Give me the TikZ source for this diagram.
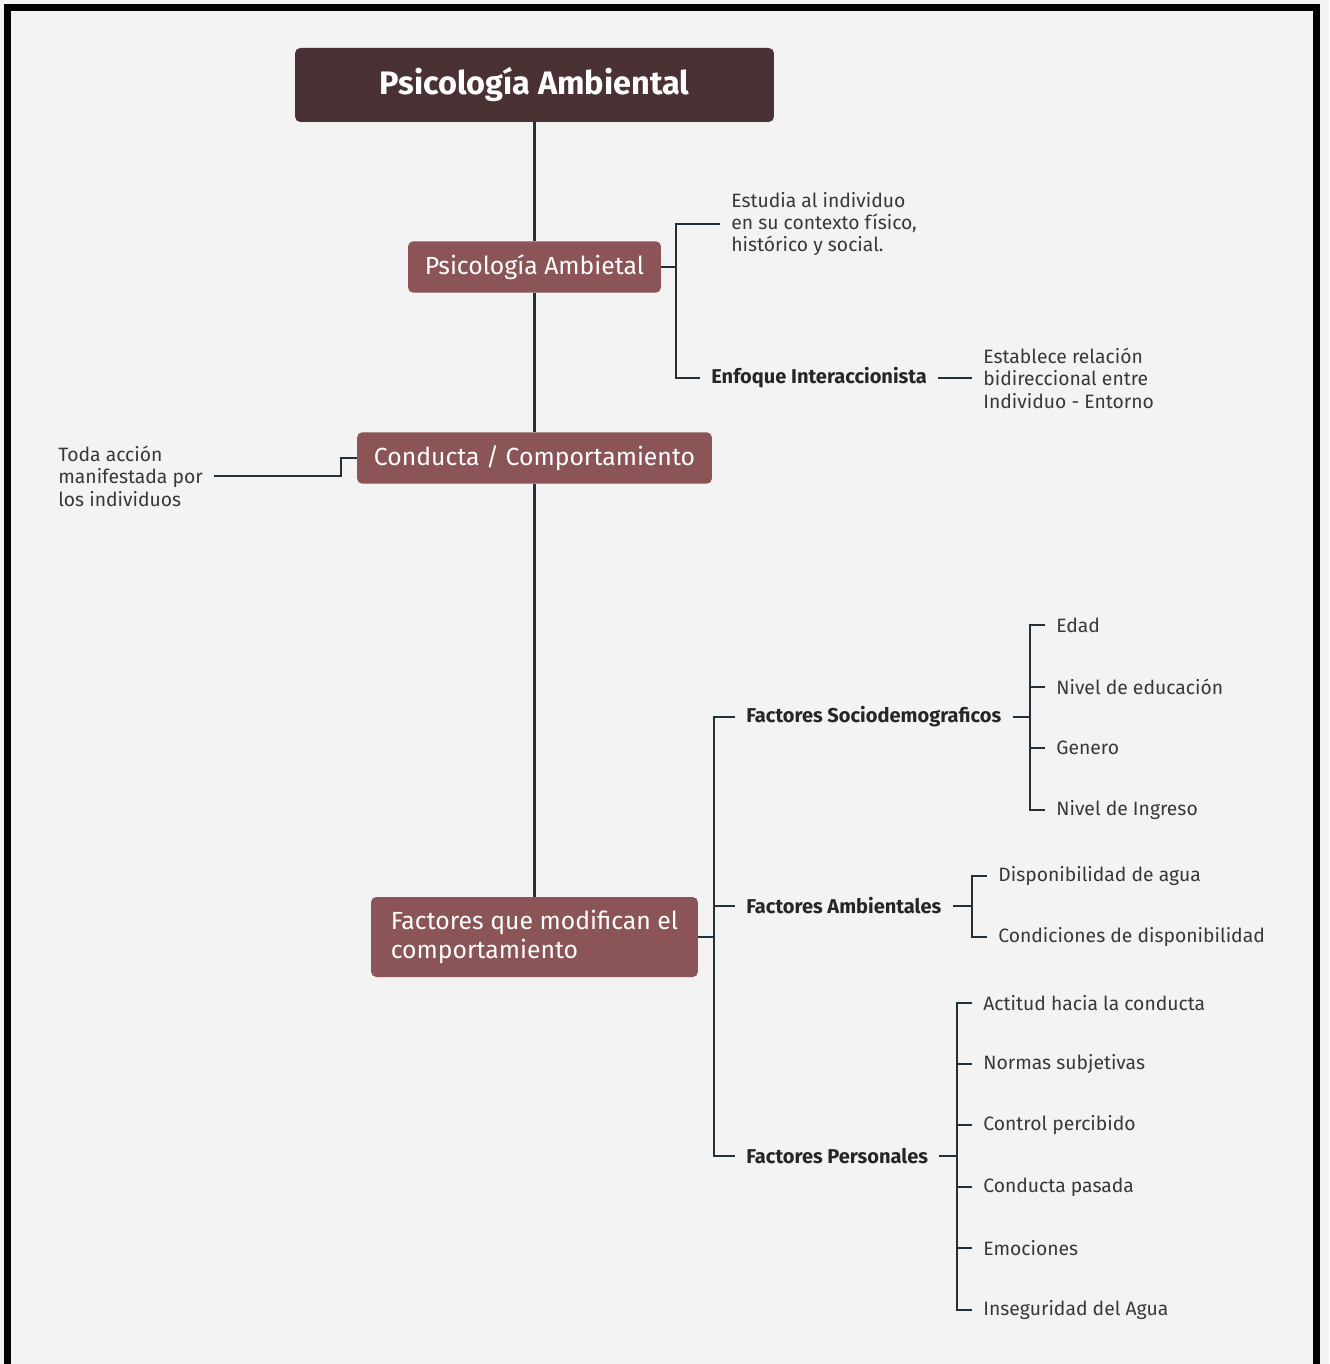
\documentclass[tikz,border=0pt]{standalone}
\usepackage{fontspec}
\setmainfont{Fira Sans}
\usetikzlibrary{calc}

\definecolor{titlebg}{HTML}{4A3234}
\definecolor{boxbg}{HTML}{8B5557}
\definecolor{linecol}{HTML}{22303A}
\definecolor{txtcol}{HTML}{383838}
\definecolor{pagebg}{HTML}{F3F3F3}

\begin{document}
\begin{tikzpicture}[
        x=0.02cm, y=-0.02cm,
        titlebox/.style={
            fill=titlebg,
            rounded corners=3pt,
            text=white,
            minimum width=9.58cm,
            minimum height=1.48cm,
            font=\fontsize{18.5}{22}\selectfont\bfseries
        },
        topic/.style={
            fill=boxbg,
            rounded corners=3pt,
            text=white,
            minimum height=1.03cm,
            font=\fontsize{14.1}{16.4}\selectfont
        },
        leaf/.style={
            anchor=west,
            align=left,
            inner xsep=0.22cm,
            inner ysep=1pt,
            text=txtcol,
            font=\fontsize{11}{12.75}\selectfont
        },
        factor/.style={
            leaf,
            text=black!85,
            font=\fontsize{11.4}{12.75}\selectfont\bfseries
        },
        link/.style={linecol, line width=1.6pt},
        trunk/.style={linecol, line width=1.9pt}
    ]

    \useasboundingbox (0,0) rectangle (1329,1364);
    \fill[pagebg] (0,0) rectangle (1329,1364);
    \draw[line width=0.14cm] (7.5,1364) -- (7.5,7.5) -- (1316,7.5) -- (1316,1364);

    \node[titlebox] (title) at (534.5,85) {Psicología Ambiental};

    \node[topic, minimum width=5.06cm] (psA) at (534.5,267) {Psicología Ambietal};
    \node[topic, minimum width=7.1cm] (cond) at (534.5,458) {Conducta / Comportamiento};
    \node[topic, minimum height=1.6cm, minimum width=6.54cm, align=left]
        (fact) at (534.5,937) {Factores que modifican el\\comportamiento};

    \draw[trunk] (title) -- (psA);
    \draw[trunk] (psA) -- (cond);
    \draw[trunk] (cond) -- (fact);

    % psicologia ambiental
    \coordinate (psAj) at (676,267);
    \node[leaf] (estudia) at (720,224)
        {Estudia al individuo\\en su contexto físico,\\histórico y social.};
    \node[factor] (enfoque) at (700,378) {Enfoque Interaccionista};
    \node[leaf] (establece) at (972,378)
        {Establece relación\\bidireccional entre\\Individuo - Entorno};

    \draw[link] (psA.east) -- (psAj);
    \draw[link] (estudia.west) -| (psAj) |- (enfoque.west);
    \draw[link] (enfoque.east) -- (establece.west);

    % conducta
    \coordinate (condj) at (341,458);
    \node[leaf] (toda) at (47,476)
        {Toda acción\\manifestada por\\los individuos};

    \draw[link] (cond.west) -- (condj) |- (toda.east);

    % factores
    \coordinate (factj) at (714,937);
    \node[factor] (socio) at (735,717) {Factores Sociodemograficos};
    \node[factor] (amb) at (735,906) {Factores Ambientales};
    \node[factor] (pers) at (735,1156) {Factores Personales};

    \draw[link] (fact.east) -- (factj);
    \draw[link] (socio.west) -| (factj) |- (pers.west);
    \draw[link] (amb.west) -- (amb.west -| factj);

    \coordinate (socioj) at (1030,717);
    \node[leaf] (edad) at (1045,625) {Edad};
    \node[leaf] (educ) at (1045,687) {Nivel de educación};
    \node[leaf] (genero) at (1045,748) {Genero};
    \node[leaf] (ingreso) at (1045,810) {Nivel de Ingreso};

    \draw[link] (socio.east) -- (socioj);
    \draw[link] (edad.west) -| (socioj) |- (ingreso.west);
    \draw[link] (educ.west) -- (educ.west -| socioj);
    \draw[link] (genero.west) -- (genero.west -| socioj);

    \coordinate (ambj) at (972,906);
    \node[leaf] (agua) at (987,876) {Disponibilidad de agua};
    \node[leaf] (condic) at (987,937) {Condiciones de disponibilidad};

    \draw[link] (amb.east) -- (ambj);
    \draw[link] (agua.west) -| (ambj) |- (condic.west);

    \coordinate (persj) at (957,1156);
    \node[leaf] (actitud) at (972,1003) {Actitud hacia la conducta};
    \node[leaf] (normas) at (972,1064) {Normas subjetivas};
    \node[leaf] (control) at (972,1125) {Control percibido};
    \node[leaf] (pasada) at (972,1187) {Conducta pasada};
    \node[leaf] (emoc) at (972,1248) {Emociones};
    \node[leaf] (insec) at (972,1310) {Inseguridad del Agua};

    \draw[link] (pers.east) -- (persj);
    \draw[link] (actitud.west) -| (persj) |- (insec.west);
    \foreach \n in {normas,control,pasada,emoc}
        \draw[link] (\n.west) -- (\n.west -| persj);

    \end{tikzpicture}
\end{document}
